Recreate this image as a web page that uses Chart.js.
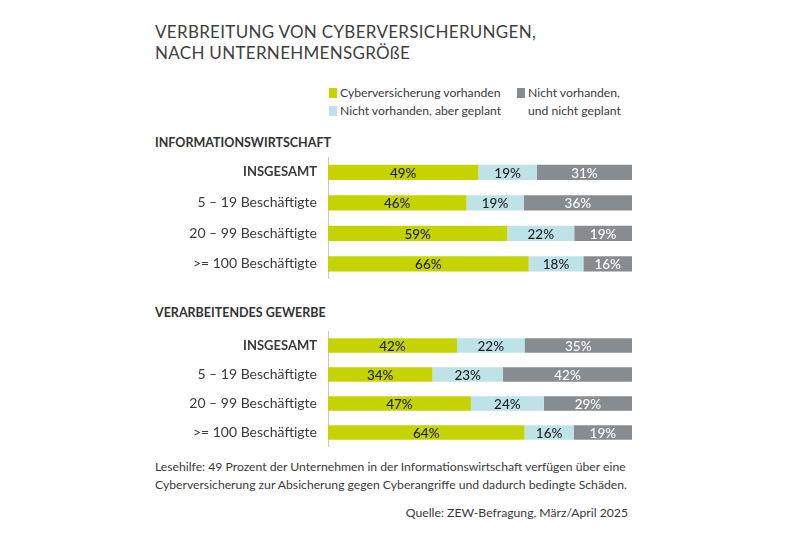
<!DOCTYPE html>
<html>
<head>
<meta charset="utf-8">
<script src="https://cdn.jsdelivr.net/npm/chart.js@4"></script>
<style>
  html, body { margin:0; padding:0; background:#fff; }
  body { width:800px; height:533px; position:relative; overflow:hidden; font-family: Lato, "Open Sans", sans-serif; color:#3a3a3a; }
  .abs { position:absolute; white-space:nowrap; }
  #title { left:155px; top:22px; font-size:17px; line-height:20.5px; letter-spacing:0.3px; color:#404040; }
  .sec { left:155px; font-size:12.5px; font-weight:bold; letter-spacing:0; color:#333; }
  .leg { font-size:12.2px; color:#3a3a3a; line-height:18px; }
  .sw { position:absolute; width:8px; height:10px; }
  .note { font-size:12.2px; color:#3a3a3a; line-height:17.5px; }
  .wrap { position:absolute; }
</style>
</head>
<body>
<div id="title" class="abs">VERBREITUNG VON CYBERVERSICHERUNGEN,<br>NACH UNTERNEHMENSGRÖßE</div>

<div class="sw" style="left:329px; top:88px; background:#c5d300;"></div>
<div class="abs leg" style="left:340px; top:84px;">Cyberversicherung vorhanden</div>
<div class="sw" style="left:329px; top:106px; background:#bde3e8;"></div>
<div class="abs leg" style="left:340px; top:102px;">Nicht vorhanden, aber geplant</div>
<div class="sw" style="left:517px; top:88px; background:#878c91;"></div>
<div class="abs leg" style="left:528px; top:84px;">Nicht vorhanden,<br>und nicht geplant</div>

<div class="abs sec" style="top:135px;">INFORMATIONSWIRTSCHAFT</div>
<div class="abs sec" style="top:305px;">VERARBEITENDES GEWERBE</div>

<div class="abs note" style="left:155px; top:458px;">Lesehilfe: 49 Prozent der Unternehmen in der Informationswirtschaft verfügen über eine<br>Cyberversicherung zur Absicherung gegen Cyberangriffe und dadurch bedingte Schäden.</div>
<div class="abs note" style="right:172px; top:504px;">Quelle: ZEW-Befragung, März/April 2025</div>

<div class="wrap" style="left:140px; top:157px; width:496px; height:122px;"><canvas id="c1"></canvas></div>
<div class="wrap" style="left:140px; top:331px; width:496px; height:116px;"><canvas id="c2"></canvas></div>

<script>
const categories = ["INSGESAMT", "5 – 19 Beschäftigte", "20 – 99 Beschäftigte", ">= 100 Beschäftigte"];
const seriesNames = ["Cyberversicherung vorhanden", "Nicht vorhanden, aber geplant", "Nicht vorhanden, und nicht geplant"];
// Informationswirtschaft
const infoVorhanden = [49, 46, 59, 66];
const infoGeplant   = [19, 19, 22, 18];
const infoNicht     = [31, 36, 19, 16];
// Verarbeitendes Gewerbe
const vgVorhanden = [42, 34, 47, 64];
const vgGeplant   = [22, 23, 24, 16];
const vgNicht     = [35, 42, 29, 19];

const colors = ["#c5d300", "#bde3e8", "#878c91"];
const labelColors = ["#1e1e1e", "#1e1e1e", "#ffffff"];

const segLabels = {
  id: "segLabels",
  afterDatasetsDraw(chart) {
    const ctx = chart.ctx;
    ctx.save();
    ctx.font = "500 13.5px Lato, 'Open Sans', sans-serif";
    ctx.textAlign = "center";
    ctx.textBaseline = "middle";
    chart.data.datasets.forEach((ds, di) => {
      const meta = chart.getDatasetMeta(di);
      meta.data.forEach((bar, i) => {
        const v = ds.rawValues[i];
        const cx = (bar.x + bar.base) / 2;
        ctx.fillStyle = labelColors[di];
        ctx.fillText(v + "%", cx, bar.y + 1);
      });
    });
    ctx.restore();
  }
};

function makeChart(id, a, b, c) {
  const totals = a.map((v, i) => v + b[i] + c[i]);
  const norm = arr => arr.map((v, i) => v / totals[i] * 100);
  const raw = [a, b, c];
  new Chart(document.getElementById(id), {
    type: "bar",
    data: {
      labels: categories,
      datasets: raw.map((arr, k) => ({
        label: seriesNames[k],
        data: norm(arr),
        rawValues: arr,
        backgroundColor: colors[k],
        borderWidth: 0,
        barPercentage: 0.5,
        categoryPercentage: 1.0
      }))
    },
    options: {
      indexAxis: "y",
      responsive: true,
      maintainAspectRatio: false,
      animation: false,
      layout: { padding: { left: 0, right: 4, top: 0, bottom: 0 } },
      plugins: { legend: { display: false }, tooltip: { enabled: false } },
      scales: {
        x: { stacked: true, min: 0, max: 100, display: false },
        y: {
          stacked: true,
          grid: { display: false, drawTicks: false },
          border: { display: true, color: "#c8c8c8", width: 1 },
          ticks: {
            padding: 11,
            color: "#3a3a3a",
            font: ctx => ctx.index === 0
              ? { family: "Lato, 'Open Sans', sans-serif", size: 13, weight: "bold" }
              : { family: "Lato, 'Open Sans', sans-serif", size: 14 }
          },
          afterFit(scale) { scale.width = 188; scale.paddingTop = 0; scale.paddingBottom = 0; }
        }
      }
    },
    plugins: [segLabels]
  });
}
makeChart("c1", infoVorhanden, infoGeplant, infoNicht);
makeChart("c2", vgVorhanden, vgGeplant, vgNicht);
</script>
</body>
</html>
